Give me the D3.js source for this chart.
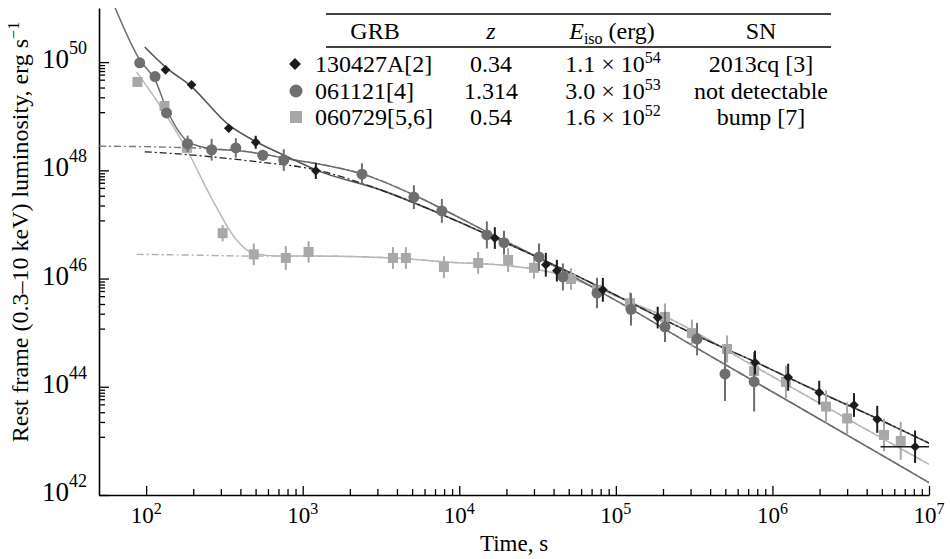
<!DOCTYPE html>
<html>
<head>
<meta charset="utf-8">
<script src="https://cdn.jsdelivr.net/npm/d3@7"></script>
<style>
body { margin: 0; background: #fff; }
svg { font-family: "Liberation Serif", "DejaVu Serif", serif; }
</style>
</head>
<body>
<div class="chart"></div>
<script>
var grbNames = ['130427A[2]', '061121[4]', '060729[5,6]']
var redshifts = ['0.34', '1.314', '0.54']
var eisoMantissa = ['1.1', '3.0', '1.6']
var eisoExponent = ['54', '53', '52']
var snNotes = ['2013cq [3]', 'not detectable', 'bump [7]']

// rest-frame time (s), luminosity (erg/s), half error bar (dex)
var t130427A = [133, 195, 337, 501, 1213, 16870, 35700, 42000, 82600, 185000, 774000, 1.26e6, 1.99e6, 3.32e6, 4.67e6, 8.15e6]
var L130427A = [7.2e49, 3.8e49, 6.0e48, 3.3e48, 9.8e47, 5.6e46, 1.8e46, 1.4e46, 6.2e45, 1.9e45, 2.8e44, 1.5e44, 7.8e43, 4.6e43, 2.5e43, 7.8e42]
var e130427A = [0, 0, 0, 0.12, 0.15, 0.2, 0.22, 0.2, 0.22, 0.2, 0.22, 0.25, 0.22, 0.22, 0.25, 0.3]

var t061121 = [91, 114, 135, 184, 262, 374, 556, 757, 2390, 5130, 7740, 15000, 19300, 32300, 45900, 75800, 125000, 206000, 330000, 498000, 764000]
var L061121 = [9.7e49, 5.4e49, 1.15e49, 3.1e48, 2.4e48, 2.6e48, 1.9e48, 1.55e48, 8.5e47, 3.2e47, 1.78e47, 6.4e46, 4.6e46, 2.5e46, 1.07e46, 5.4e45, 2.7e45, 1.28e45, 7.6e44, 1.73e44, 1.24e44]
var e061121 = [0, 0, 0, 0.15, 0.2, 0.18, 0.1, 0.2, 0.2, 0.22, 0.22, 0.25, 0.22, 0.25, 0.25, 0.28, 0.3, 0.28, 0.3, 0.5, 0.55]

var t060729 = [88, 131, 182, 308, 487, 780, 1090, 3770, 4560, 7980, 13200, 20500, 30000, 51700, 75800, 123000, 206000, 306000, 513000, 764000, 1.22e6, 2.2e6, 3.0e6, 5.16e6, 6.6e6]
var L060729 = [4.3e49, 1.55e49, 2.6e48, 6.9e46, 2.8e46, 2.4e46, 3.1e46, 2.4e46, 2.4e46, 1.63e46, 1.94e46, 2.2e46, 1.58e46, 9.8e45, 6.2e45, 3.5e45, 1.95e45, 9.8e44, 5.0e44, 1.95e44, 1.23e44, 4.3e43, 2.6e43, 1.29e43, 1.0e43]
var e060729 = [0, 0, 0.1, 0.15, 0.2, 0.22, 0.2, 0.2, 0.2, 0.2, 0.2, 0.22, 0.2, 0.2, 0.22, 0.2, 0.25, 0.25, 0.25, 0.3, 0.3, 0.3, 0.3, 0.3, 0.35]

// horizontal bar on the last 130427A point
var xbar130427A = [4.9e6, 1e7]

// fitted curves [time, luminosity]
var fit130427A = [[98, 1.9e50], [133, 8.1e49], [193, 3.6e49], [337, 6.9e48], [501, 3.4e48], [827, 1.7e48], [1210, 1.02e48], [3110, 4.4e47], [8710, 1.32e47], [18200, 5.1e46], [37900, 1.94e46], [82800, 6.5e45], [185000, 2.0e45], [344000, 8.3e44], [773000, 2.9e44], [1.98e6, 8.0e43], [4.66e6, 2.6e43], [1e7, 9.1e42]]
var plateau130427A = [[98, 2.2e48], [220, 1.87e48], [459, 1.49e48]].concat(fit130427A.slice(6))

var fit061121 = [[63, 1.05e51], [91, 1.1e50], [114, 4.7e49], [136, 1.3e49], [159, 5.6e48], [185, 3.4e48], [263, 2.5e48], [396, 2.3e48], [556, 2.0e48], [827, 1.6e48], [1290, 1.3e48], [2390, 8.6e47], [5130, 3.5e47], [7750, 1.95e47], [15000, 7.3e46], [32300, 2.4e46], [75800, 6.2e45], [123000, 2.8e45], [344000, 4.8e44], [1.5e6, 4.1e43], [1e7, 1.7e42]]
var plateau061121 = [[50, 2.8e48], [122, 2.7e48]].concat(fit061121.slice(6))

var fit060729 = [[87, 6.6e49], [128, 1.3e49], [182, 2.4e48], [266, 2.8e47], [379, 5.1e46], [480, 2.95e46], [714, 2.6e46], [1160, 2.6e46], [3770, 2.4e46], [8710, 2.0e46], [18200, 1.79e46], [37900, 1.32e46], [75800, 6.7e45], [123000, 3.7e45], [209000, 1.95e45], [764000, 2.4e44], [3.13e6, 2.4e43], [1e7, 3.7e42]]
var plateau060729 = [[87, 2.8e46], [220, 2.7e46], [480, 2.6e46]].concat(fit060729.slice(7))

var xMajor = [1e2, 1e3, 1e4, 1e5, 1e6, 1e7]
var xExp = ['2', '3', '4', '5', '6', '7']
var yMajor = [1e42, 1e44, 1e46, 1e48, 1e50]
var yExp = ['42', '44', '46', '48', '50']
// minor y ticks sit below each labelled decade, offsets in dex
var yMinorOffsets = [0.055, 0.11, 0.165, 0.23, 0.325, 0.47, 0.65, 0.925]

var xMinor = []
xMajor.slice(0, 5).forEach(d => { for (var k = 2; k < 10; k++) xMinor.push(d * k) })
var yMinor = []
yMajor.slice(1).forEach(d => yMinorOffsets.forEach(o => yMinor.push(d / Math.pow(10, o))))

var x = d3.scaleLog().domain([50, 1e7]).range([99, 929])
var y = d3.scaleLog().domain([1e42, 1e51]).range([495, 8])

var svg = d3.select('.chart')
    .append('svg')
    .attr('width', 950)
    .attr('height', 559)

svg.append('defs').append('clipPath').attr('id', 'plot')
    .append('rect').attr('x', 99).attr('y', 8).attr('width', 830).attr('height', 487)

// axes
svg.append('g')
    .attr('transform', 'translate(0,495)')
    .call(d3.axisBottom(x).tickValues(xMinor).tickSize(-6).tickSizeOuter(0).tickFormat(''))
    .call(g => g.select('.domain').attr('stroke-width', 1.6))
svg.append('g')
    .attr('transform', 'translate(0,495)')
    .call(d3.axisBottom(x).tickValues(xMajor).tickSize(-9).tickFormat(''))
    .call(g => g.select('.domain').remove())
svg.append('g')
    .attr('transform', 'translate(99,0)')
    .call(d3.axisLeft(y).tickValues(yMinor).tickSize(-6).tickSizeOuter(0).tickFormat(''))
    .call(g => g.select('.domain').attr('stroke-width', 1.6))
svg.append('g')
    .attr('transform', 'translate(99,0)')
    .call(d3.axisLeft(y).tickValues(yMajor).tickSize(-10).tickFormat(''))
    .call(g => g.select('.domain').remove())
svg.selectAll('.tick line').attr('stroke-width', 1.3)

svg.append('g').selectAll('text')
    .data(xMajor)
    .enter()
    .append('text')
    .attr('x', d => x(d))
    .attr('y', 523)
    .attr('text-anchor', 'middle')
    .attr('font-size', 23)
    .each(function (d, i) {
        d3.select(this).append('tspan').text('10')
        d3.select(this).append('tspan').attr('dy', -9).attr('font-size', 16).text(xExp[i])
    })

svg.append('g').selectAll('text')
    .data(yMajor)
    .enter()
    .append('text')
    .attr('x', 87)
    .attr('y', d => y(d) + 6)
    .attr('text-anchor', 'end')
    .attr('font-size', 27)
    .each(function (d, i) {
        d3.select(this).append('tspan').text('10')
        d3.select(this).append('tspan').attr('dy', -14).attr('font-size', 18).text(yExp[i])
    })

svg.append('text')
    .attr('x', 514)
    .attr('y', 551)
    .attr('text-anchor', 'middle')
    .attr('font-size', 23)
    .text('Time, s')

var ytitle = svg.append('text')
    .attr('transform', 'translate(28,232) rotate(-90)')
    .attr('text-anchor', 'middle')
    .attr('font-size', 24)
ytitle.append('tspan').text('Rest frame (0.3–10 keV) luminosity, erg s')
ytitle.append('tspan').attr('dy', -9).attr('font-size', 16).text('−1')

// fit curves
var line = d3.line()
    .x(d => x(d[0]))
    .y(d => y(d[1]))
    .curve(d3.curveMonotoneX)

var curves = svg.append('g').attr('clip-path', 'url(#plot)').attr('fill', 'none')
curves.append('path').attr('d', line(plateau060729)).attr('stroke', '#b0b0b0').attr('stroke-width', 1.4).attr('stroke-dasharray', '7,3,2,3')
curves.append('path').attr('d', line(fit060729)).attr('stroke', '#b8b8b8').attr('stroke-width', 1.5)
curves.append('path').attr('d', line(plateau061121)).attr('stroke', '#7a7a7a').attr('stroke-width', 1.4).attr('stroke-dasharray', '7,3,2,3')
curves.append('path').attr('d', line(fit061121)).attr('stroke', '#6e6e6e').attr('stroke-width', 1.5)
curves.append('path').attr('d', line(fit130427A)).attr('stroke', '#555').attr('stroke-width', 1.6)
curves.append('path').attr('d', line(plateau130427A)).attr('stroke', '#222').attr('stroke-width', 1.3).attr('stroke-dasharray', '7,3,2,3')

function points(t, L, e) {
    return t.map((d, i) => ({ t: d, L: L[i], e: e[i] }))
}

function errorBars(data, color) {
    svg.append('g').selectAll('line')
        .data(data.filter(d => d.e > 0))
        .enter()
        .append('line')
        .attr('x1', d => x(d.t))
        .attr('x2', d => x(d.t))
        .attr('y1', d => y(d.L * Math.pow(10, d.e)))
        .attr('y2', d => y(d.L / Math.pow(10, d.e)))
        .attr('stroke', color)
        .attr('stroke-width', 2)
}

var p060729 = points(t060729, L060729, e060729)
var p061121 = points(t061121, L061121, e061121)
var p130427A = points(t130427A, L130427A, e130427A)

errorBars(p060729, '#a8a8a8')
svg.append('g').selectAll('rect')
    .data(p060729)
    .enter()
    .append('rect')
    .attr('x', d => x(d.t) - 5)
    .attr('y', d => y(d.L) - 5)
    .attr('width', 10)
    .attr('height', 10)
    .attr('fill', '#a8a8a8')

errorBars(p061121, '#6e6e6e')
svg.append('g').selectAll('circle')
    .data(p061121)
    .enter()
    .append('circle')
    .attr('cx', d => x(d.t))
    .attr('cy', d => y(d.L))
    .attr('r', 5.5)
    .attr('fill', '#6e6e6e')

errorBars(p130427A, '#1c1c1c')
svg.append('line')
    .attr('x1', x(xbar130427A[0]))
    .attr('x2', x(xbar130427A[1]))
    .attr('y1', y(L130427A[L130427A.length - 1]))
    .attr('y2', y(L130427A[L130427A.length - 1]))
    .attr('stroke', '#1c1c1c')
    .attr('stroke-width', 1.3)
var diamond = d3.symbol().type(d3.symbolDiamond2).size(60)
svg.append('g').selectAll('path')
    .data(p130427A)
    .enter()
    .append('path')
    .attr('d', diamond)
    .attr('transform', d => 'translate(' + x(d.t) + ',' + y(d.L) + ')')
    .attr('fill', '#1c1c1c')

// legend table
var table = svg.append('g').attr('font-size', 24)
table.append('line').attr('x1', 326).attr('x2', 831).attr('y1', 14).attr('y2', 14).attr('stroke', '#000').attr('stroke-width', 1.3)
table.append('line').attr('x1', 326).attr('x2', 831).attr('y1', 47).attr('y2', 47).attr('stroke', '#000').attr('stroke-width', 1.3)
table.append('text').attr('x', 375).attr('y', 39).attr('text-anchor', 'middle').text('GRB')
table.append('text').attr('x', 491).attr('y', 39).attr('text-anchor', 'middle').attr('font-style', 'italic').text('z')
var eh = table.append('text').attr('x', 612).attr('y', 39).attr('text-anchor', 'middle')
eh.append('tspan').attr('font-style', 'italic').text('E')
eh.append('tspan').attr('dy', 5).attr('font-size', 16).text('iso')
eh.append('tspan').attr('dy', -5).text(' (erg)')
table.append('text').attr('x', 761).attr('y', 39).attr('text-anchor', 'middle').text('SN')

var rowY = [72, 99, 125]
var rows = table.selectAll('g.row')
    .data(grbNames)
    .enter()
    .append('g')
    .attr('class', 'row')
    .attr('transform', (d, i) => 'translate(0,' + rowY[i] + ')')
rows.append('text').attr('x', 315).text(d => d)
rows.append('text').attr('x', 491).attr('text-anchor', 'middle').text((d, i) => redshifts[i])
rows.append('text')
    .attr('x', 613)
    .attr('text-anchor', 'middle')
    .each(function (d, i) {
        d3.select(this).append('tspan').text(eisoMantissa[i] + ' × 10')
        d3.select(this).append('tspan').attr('dy', -9).attr('font-size', 16).text(eisoExponent[i])
    })
rows.append('text').attr('x', 761).attr('text-anchor', 'middle').text((d, i) => snNotes[i])

var legendMarker = d3.symbol().type(d3.symbolDiamond2).size(90)
rows.filter((d, i) => i == 0).append('path').attr('d', legendMarker).attr('transform', 'translate(295,-8)').attr('fill', '#1c1c1c')
rows.filter((d, i) => i == 1).append('circle').attr('cx', 296).attr('cy', -8).attr('r', 6.5).attr('fill', '#6e6e6e')
rows.filter((d, i) => i == 2).append('rect').attr('x', 290).attr('y', -14).attr('width', 12).attr('height', 12).attr('fill', '#a8a8a8')
</script>
</body>
</html>
